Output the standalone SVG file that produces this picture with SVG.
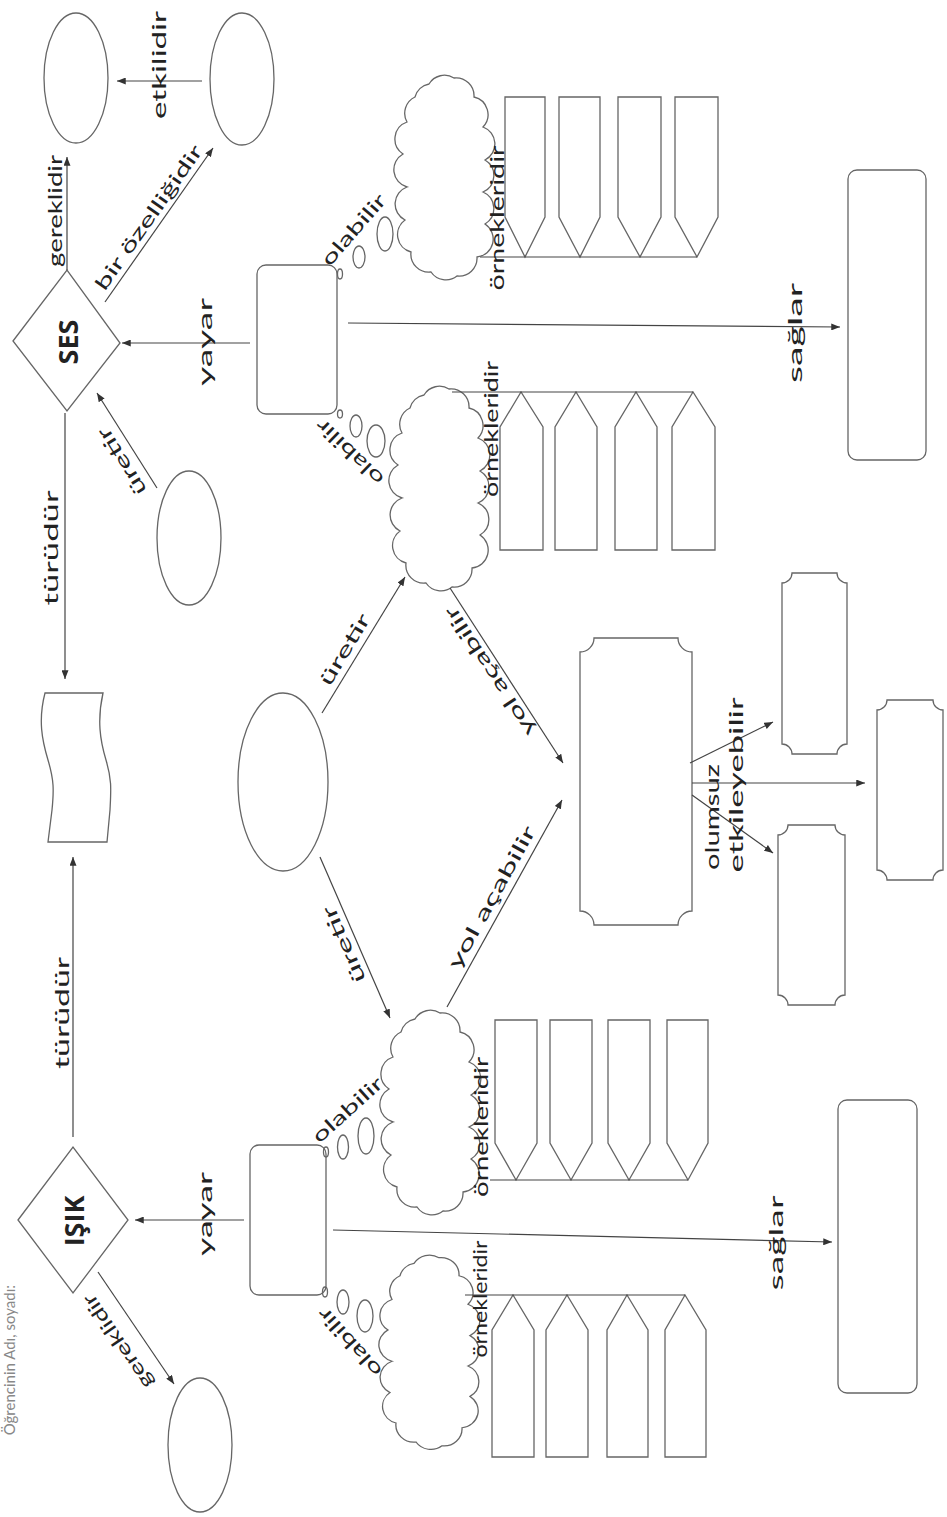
<svg xmlns="http://www.w3.org/2000/svg" xmlns:xlink="http://www.w3.org/1999/xlink" width="947" height="1517" viewBox="0 0 947 1517">
<style>
.sh{fill:none;stroke:#666;stroke-width:1.3}
.cn{fill:none;stroke:#444;stroke-width:1.2}
.ar{marker-end:url(#ah)}
.lb{font-family:Lato,"Open Sans",sans-serif;font-size:19px;fill:#222;text-anchor:middle;dominant-baseline:central}
.big{font-family:"Open Sans",Lato,sans-serif;font-size:27px;font-weight:bold;fill:#222;text-anchor:middle;dominant-baseline:central}
.hd{font-family:Lato,sans-serif;font-size:15px;fill:#888}
</style>
<defs>
<marker id="ah" viewBox="0 0 10 8" refX="10" refY="4" markerWidth="9" markerHeight="7" markerUnits="userSpaceOnUse" orient="auto">
<path d="M0,0 L10,4 L0,8 Z" fill="#333"/>
</marker>
<path id="cloud" class="sh" d="M30,12 A18,18 0 0 1 55,6 A18,18 0 0 1 75,25 A18,18 0 0 1 84,55 A18,18 0 0 1 86,88 A18,18 0 0 1 84,120 A18,18 0 0 1 86,152 A18,18 0 0 1 78,185 A18,18 0 0 1 58,204 A18,18 0 0 1 32,200 A18,18 0 0 1 12,180 A18,18 0 0 1 6,148 A18,18 0 0 1 8,115 A18,18 0 0 1 4,82 A18,18 0 0 1 8,50 A18,18 0 0 1 16,25 A18,18 0 0 1 30,12 Z"/>
</defs>
<rect width="947" height="1517" fill="#fff"/>

<text class="hd" transform="translate(15,1285) rotate(-90)" text-anchor="end">Öğrencinin Adı, soyadı:</text>

<!-- SES side -->
<g id="ses"><path class="sh" d="M13,341 L67,270 L120,343 L67,411 Z"/><text class="big" transform="translate(67,342) rotate(-90)">SES</text></g>
<g id="ses-ell1"><ellipse class="sh" cx="76" cy="78" rx="32" ry="65"/></g>
<g id="ses-ell2"><ellipse class="sh" cx="242" cy="79" rx="32" ry="66"/></g>
<g id="ses-ell3"><ellipse class="sh" cx="189" cy="538" rx="32" ry="67"/></g>
<g id="ses-rect"><rect class="sh" x="257" y="265" width="80" height="149" rx="9"/></g>
<g id="ses-bub1"><ellipse class="sh" cx="340" cy="274" rx="2.5" ry="5"/><ellipse class="sh" cx="359" cy="257" rx="6" ry="11"/><ellipse class="sh" cx="385" cy="234" rx="8" ry="17"/></g>
<g id="ses-bub2"><ellipse class="sh" cx="340" cy="414" rx="2.5" ry="4"/><ellipse class="sh" cx="356" cy="426" rx="6" ry="11"/><ellipse class="sh" cx="376" cy="441" rx="9" ry="16"/></g>
<g id="ses-cloud1"><use xlink:href="#cloud" transform="translate(399,72)"/></g>
<g id="ses-cloud2"><use xlink:href="#cloud" transform="translate(394,383)"/></g>
<g id="ses-ex1">
<path class="sh" d="M505,97 H545 V217 L525,257 L505,217 Z"/>
<path class="sh" d="M559,97 H600 V217 L580,257 L559,217 Z"/>
<path class="sh" d="M618,97 H661 V217 L640,257 L618,217 Z"/>
<path class="sh" d="M675,97 H718 V217 L697,257 L675,217 Z"/>
</g>
<g id="ses-ex2">
<path class="sh" d="M500,550 H543 V427 L521,392 L500,427 Z"/>
<path class="sh" d="M555,550 H597 V427 L576,392 L555,427 Z"/>
<path class="sh" d="M615,550 H657 V427 L636,392 L615,427 Z"/>
<path class="sh" d="M672,550 H715 V427 L693,392 L672,427 Z"/>
</g>
<g id="ses-right"><rect class="sh" x="848" y="170" width="78" height="290" rx="9"/></g>

<!-- middle -->
<g id="flag"><path class="sh" d="M45,693 L103,693 C97,720 100,740 106,760 S111,790 110,810 L107,842 L48,842 L52,810 C54,790 54,780 48,760 S38,720 45,693 Z"/></g>
<g id="center-ell"><ellipse class="sh" cx="283" cy="782" rx="45" ry="89"/></g>
<g id="big-rect"><path class="sh" d="M594,638 H678 A14,14 0 0 0 692,652 V911 A14,14 0 0 0 678,925 H594 A14,14 0 0 0 580,911 V652 A14,14 0 0 0 594,638 Z"/></g>
<g id="n1"><path class="sh" d="M792,573 H837 A10,10 0 0 0 847,583 V744 A10,10 0 0 0 837,754 H792 A10,10 0 0 0 782,744 V583 A10,10 0 0 0 792,573 Z"/></g>
<g id="n2"><path class="sh" d="M788,825 H835 A10,10 0 0 0 845,835 V995 A10,10 0 0 0 835,1005 H788 A10,10 0 0 0 778,995 V835 A10,10 0 0 0 788,825 Z"/></g>
<g id="n3"><path class="sh" d="M887,700 H933 A10,10 0 0 0 943,710 V870 A10,10 0 0 0 933,880 H887 A10,10 0 0 0 877,870 V710 A10,10 0 0 0 887,700 Z"/></g>

<!-- IŞIK side -->
<g id="isik"><path class="sh" d="M18,1220 L73,1147 L128,1220 L73,1293 Z"/><text class="big" transform="translate(73,1221) rotate(-90)">IŞIK</text></g>
<g id="isik-ell"><ellipse class="sh" cx="200" cy="1445" rx="32" ry="67"/></g>
<g id="isik-rect"><rect class="sh" x="250" y="1145" width="76" height="150" rx="9"/></g>
<g id="isik-bub1"><ellipse class="sh" cx="326" cy="1152" rx="2.5" ry="5"/><ellipse class="sh" cx="343" cy="1147" rx="5.5" ry="12"/><ellipse class="sh" cx="366" cy="1136" rx="8" ry="18"/></g>
<g id="isik-bub2"><ellipse class="sh" cx="325" cy="1292" rx="2.5" ry="5"/><ellipse class="sh" cx="343" cy="1302" rx="6" ry="12"/><ellipse class="sh" cx="365" cy="1316" rx="8" ry="16"/></g>
<g id="isik-cloud1"><use xlink:href="#cloud" transform="translate(385,1007)"/></g>
<g id="isik-cloud2"><use xlink:href="#cloud" transform="translate(384,1252) scale(1,0.95)"/></g>
<g id="isik-ex1">
<path class="sh" d="M495,1020 H537 V1143 L516,1180 L495,1143 Z"/>
<path class="sh" d="M550,1020 H592 V1143 L571,1180 L550,1143 Z"/>
<path class="sh" d="M608,1020 H650 V1143 L629,1180 L608,1143 Z"/>
<path class="sh" d="M667,1020 H708 V1143 L688,1180 L667,1143 Z"/>
</g>
<g id="isik-ex2">
<path class="sh" d="M492,1457 H534 V1330 L513,1295 L492,1330 Z"/>
<path class="sh" d="M546,1457 H588 V1330 L567,1295 L546,1330 Z"/>
<path class="sh" d="M607,1457 H648 V1330 L627,1295 L607,1330 Z"/>
<path class="sh" d="M665,1457 H706 V1330 L685,1295 L665,1330 Z"/>
</g>
<g id="isik-right"><rect class="sh" x="838" y="1100" width="79" height="293" rx="9"/></g>

<g id="connectors">
<line class="cn ar" x1="67" y1="270" x2="67" y2="157"/>
<line class="cn ar" x1="202" y1="81" x2="117" y2="81"/>
<line class="cn ar" x1="105" y1="302" x2="213" y2="148"/>
<line class="cn ar" x1="250" y1="343" x2="122" y2="343"/>
<line class="cn ar" x1="157" y1="488" x2="97" y2="393"/>
<line class="cn ar" x1="65" y1="413" x2="65" y2="679"/>
<line class="cn ar" x1="73" y1="1137" x2="73" y2="857"/>
<line class="cn ar" x1="244" y1="1220" x2="135" y2="1220"/>
<line class="cn ar" x1="98" y1="1272" x2="174" y2="1384"/>
<line class="cn ar" x1="322" y1="713" x2="405" y2="577"/>
<line class="cn ar" x1="320" y1="857" x2="390" y2="1018"/>
<line class="cn ar" x1="450" y1="588" x2="563" y2="763"/>
<line class="cn ar" x1="447" y1="1007" x2="562" y2="800"/>
<line class="cn ar" x1="690" y1="763" x2="773" y2="722"/>
<line class="cn ar" x1="692" y1="783" x2="865" y2="783"/>
<line class="cn ar" x1="692" y1="795" x2="773" y2="853"/>
<line class="cn ar" x1="348" y1="323" x2="840" y2="327"/>
<line class="cn ar" x1="333" y1="1230" x2="832" y2="1242"/>
<line class="cn" x1="480" y1="257" x2="697" y2="257"/>
<line class="cn" x1="452" y1="392" x2="693" y2="392"/>
<line class="cn" x1="490" y1="1180" x2="688" y2="1180"/>
<line class="cn" x1="465" y1="1295" x2="685" y2="1295"/>
</g>

<g id="labels">
<text class="lb" transform="translate(54,211) rotate(-90)" textLength="112" lengthAdjust="spacingAndGlyphs">gereklidir</text>
<text class="lb" transform="translate(158,65) rotate(-90)" textLength="108" lengthAdjust="spacingAndGlyphs">etkilidir</text>
<text class="lb" transform="translate(148,217) rotate(-55)" textLength="172" lengthAdjust="spacingAndGlyphs">bir özelliğidir</text>
<text class="lb" transform="translate(204,342) rotate(-90)" textLength="88" lengthAdjust="spacingAndGlyphs">yayar</text>
<text class="lb" transform="translate(121,462) rotate(-122)" textLength="76" lengthAdjust="spacingAndGlyphs">üretir</text>
<text class="lb" transform="translate(50,548) rotate(-90)" textLength="115" lengthAdjust="spacingAndGlyphs">türüdür</text>
<text class="lb" transform="translate(61,1013) rotate(-90)" textLength="112" lengthAdjust="spacingAndGlyphs">türüdür</text>
<text class="lb" transform="translate(204,1214) rotate(-90)" textLength="84" lengthAdjust="spacingAndGlyphs">yayar</text>
<text class="lb" transform="translate(117,1342) rotate(-124)" textLength="110" lengthAdjust="spacingAndGlyphs">gereklidir</text>
<text class="lb" transform="translate(344,649) rotate(-59)" textLength="80" lengthAdjust="spacingAndGlyphs">üretir</text>
<text class="lb" transform="translate(343,945) rotate(-113.5)" textLength="82" lengthAdjust="spacingAndGlyphs">üretir</text>
<text class="lb" transform="translate(489,672) rotate(-123)" textLength="150" lengthAdjust="spacingAndGlyphs">yol açabilir</text>
<text class="lb" transform="translate(491,897) rotate(-61)" textLength="160" lengthAdjust="spacingAndGlyphs">yol açabilir</text>
<text class="lb" transform="translate(353,229) rotate(-49)" textLength="88" lengthAdjust="spacingAndGlyphs">olabilir</text>
<text class="lb" transform="translate(349,453) rotate(-136)" textLength="86" lengthAdjust="spacingAndGlyphs">olabilir</text>
<text class="lb" transform="translate(347,1109) rotate(-42)" textLength="88" lengthAdjust="spacingAndGlyphs">olabilir</text>
<text class="lb" transform="translate(349,1343) rotate(-132)" textLength="86" lengthAdjust="spacingAndGlyphs">olabilir</text>
<text class="lb" transform="translate(496,218) rotate(-90)" textLength="145" lengthAdjust="spacingAndGlyphs">örnekleridir</text>
<text class="lb" transform="translate(490,429) rotate(-90)" textLength="136" lengthAdjust="spacingAndGlyphs">örnekleridir</text>
<text class="lb" transform="translate(480,1127) rotate(-90)" textLength="140" lengthAdjust="spacingAndGlyphs">örnekleridir</text>
<text class="lb" transform="translate(479,1299) rotate(-90)" textLength="117" lengthAdjust="spacingAndGlyphs">örnekleridir</text>
<text class="lb" transform="translate(794,333) rotate(-90)" textLength="100" lengthAdjust="spacingAndGlyphs">sağlar</text>
<text class="lb" transform="translate(775,1243) rotate(-90)" textLength="95" lengthAdjust="spacingAndGlyphs">sağlar</text>
<text class="lb" transform="translate(711,817) rotate(-90)" textLength="106" lengthAdjust="spacingAndGlyphs">olumsuz</text>
<text class="lb" transform="translate(735,785) rotate(-90)" textLength="175" lengthAdjust="spacingAndGlyphs">etkileyebilir</text>
</g>
</svg>
